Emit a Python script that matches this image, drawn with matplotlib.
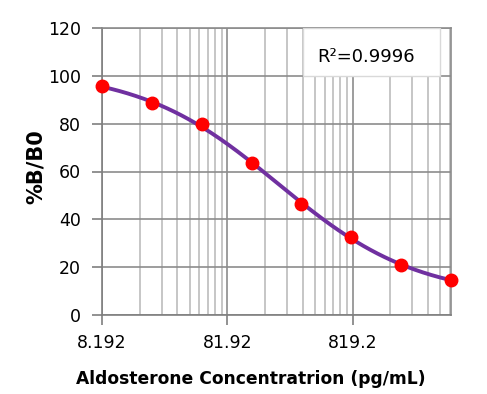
import numpy as np
import matplotlib
matplotlib.use('Agg')
import matplotlib.pyplot as plt
from matplotlib.patches import Rectangle
from matplotlib.ticker import FixedLocator, NullFormatter

# standards (pg/mL) and %B/B0
conc = [8.192, 20.48, 51.2, 128, 320, 800, 2000, 5000]
bb0 = [95.6, 88.5, 79.7, 63.4, 46.3, 32.7, 21.0, 14.5]
x_ticks = [8.192, 81.92, 819.2]
x_ticklabels = ['8.192', '81.92', '819.2']
r2_text = 'R\u00b2=0.9996'

plt.rcParams['font.family'] = ['DejaVu Sans']


def fit_4pl(x, y):
    # y = d + (a - d) / (1 + (x/c)^b); grid over b, c, least squares for a, d
    x = np.asarray(x, float)
    y = np.asarray(y, float)
    best = None
    for b in np.linspace(0.3, 2.0, 171):
        for lc in np.linspace(1.0, 4.0, 301):
            g = 1.0 / (1.0 + (x / 10 ** lc) ** b)
            A = np.c_[g, 1 - g]
            sol, *_ = np.linalg.lstsq(A, y, rcond=None)
            err = np.sum((A @ sol - y) ** 2)
            if best is None or err < best[0]:
                best = (err, sol[0], b, 10 ** lc, sol[1])
    return best[1:]


a, b, c, d = fit_4pl(conc, bb0)
xs = np.logspace(np.log10(conc[0]), np.log10(conc[-1]), 300)
ys = d + (a - d) / (1 + (xs / c) ** b)

fig = plt.figure(figsize=(4.87, 3.94), dpi=100)
ax = fig.add_axes([102 / 487, 1 - 315 / 394, (451 - 102) / 487, (315 - 28) / 394])

ax.plot(xs, ys, color='#7030A0', lw=2.8, zorder=3, clip_on=False)
ax.plot(conc, bb0, 'o', color='#FF0000', ms=9, zorder=4, clip_on=False)

ax.set_xscale('log')
ax.set_xlim(conc[0], conc[-1])
ax.set_ylim(0, 120)
ax.xaxis.set_major_locator(FixedLocator(x_ticks))
ax.set_xticklabels(x_ticklabels)
minors = [conc[0] * m * 10 ** k for k in range(3) for m in range(2, 10)]
ax.xaxis.set_minor_locator(FixedLocator(minors))
ax.xaxis.set_minor_formatter(NullFormatter())
ax.set_yticks(range(0, 121, 20))

ax.grid(True, which='major', color='#8c8c8c', lw=1.2)
ax.grid(True, which='minor', axis='x', color='#bcbcbc', lw=1.2)
ax.set_axisbelow(True)

for s in ['top', 'right']:
    ax.spines[s].set_color('#8c8c8c')
    ax.spines[s].set_linewidth(1.2)
for s in ['left', 'bottom']:
    ax.spines[s].set_color('#7f7f7f')
    ax.spines[s].set_linewidth(1.2)
ax.tick_params(which='major', length=7, width=1.2, color='#7f7f7f', labelsize=12.5)
ax.tick_params(axis='y', pad=8)
ax.tick_params(axis='x', pad=7)
ax.tick_params(which='minor', length=0)

ax.set_xlabel('Aldosterone Concentratrion (pg/mL)', fontsize=12.3, fontweight='bold')
ax.xaxis.set_label_coords(0.427, -0.19)
ax.set_ylabel('%B/B0', fontsize=15, fontweight='bold')
ax.yaxis.set_label_coords(-0.16, 0.516)

ax.add_patch(Rectangle((0.576, 0.833), 0.392, 0.167, transform=ax.transAxes,
                       fc='white', ec='#d9d9d9', lw=1, zorder=5))
ax.text(0.758, 0.899, r2_text, transform=ax.transAxes, ha='center', va='center',
        fontsize=13, zorder=6)

fig.savefig('out.png', dpi=100)
